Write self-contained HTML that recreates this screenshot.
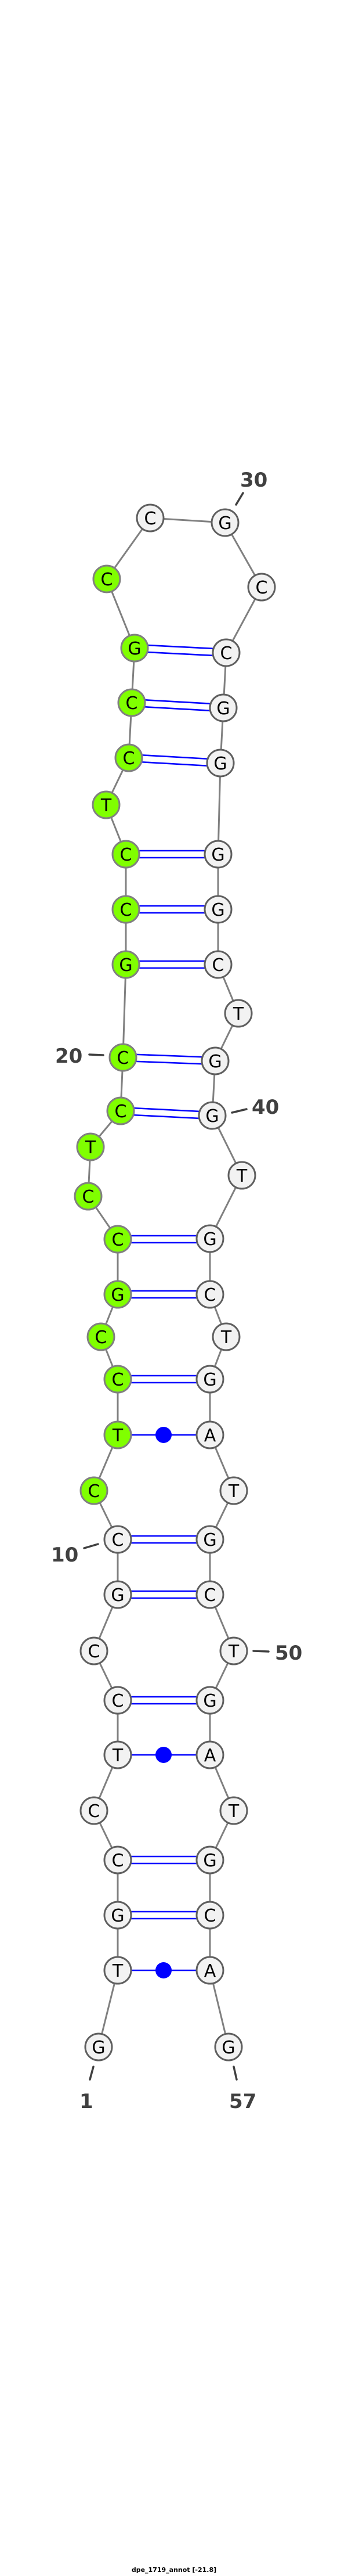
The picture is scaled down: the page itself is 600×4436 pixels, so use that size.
<!DOCTYPE html>
<html><head><meta charset="utf-8"><style>
html,body{margin:0;padding:0;background:#fff;}
svg{display:block;}
.bb{stroke:#808080;stroke-width:3;fill:none;}
.bp{stroke:#0000ff;stroke-width:2.6;}
.w{fill:#f2f2f2;stroke:#5f5f5f;stroke-width:3;}
.g{fill:#80ff00;stroke:#808080;stroke-width:3;}
.t{font-family:"DejaVu Sans","Liberation Sans",sans-serif;font-size:30px;text-anchor:middle;fill:#000;}
.l{font-family:"DejaVu Sans","Liberation Sans",sans-serif;font-size:34px;font-weight:bold;fill:#404040;}
.tk{stroke:#404040;stroke-width:3.5;stroke-linecap:round;}
</style></head><body>
<svg width="600" height="4436" viewBox="0 0 600 4436" xmlns="http://www.w3.org/2000/svg">
<polyline class="bb" points="170,3525 203,3393 203,3298 203,3203 162,3118 203,3022 203,2928 162,2843 203,2746 203,2651 162,2567 203,2471 203,2375 174,2302 203,2229 203,2134 152,2060 156,1975 208,1913 212,1821 217,1661 217,1566 217,1471 183,1386 222,1305 227,1210 232,1116 184,997 259,892 388,900 451,1011 390,1124 385,1219 380,1314 376,1471 376,1566 376,1661 411,1745 371,1827 366,1921 417,2024 362,2133 362,2229 390,2302 362,2375 362,2471 403,2567 362,2651 362,2746 403,2843 362,2928 362,3022 403,3118 362,3203 362,3298 362,3393 394,3525"/>
<g class="bp">
<line x1="232" y1="1110" x2="390" y2="1118"/><line x1="232" y1="1122" x2="390" y2="1130"/>
<line x1="227" y1="1204" x2="385" y2="1213"/><line x1="227" y1="1216" x2="385" y2="1225"/>
<line x1="222" y1="1299" x2="380" y2="1308"/><line x1="222" y1="1311" x2="380" y2="1320"/>
<line x1="217" y1="1465" x2="376" y2="1465"/><line x1="217" y1="1477" x2="376" y2="1477"/>
<line x1="217" y1="1560" x2="376" y2="1560"/><line x1="217" y1="1572" x2="376" y2="1572"/>
<line x1="217" y1="1655" x2="376" y2="1655"/><line x1="217" y1="1667" x2="376" y2="1667"/>
<line x1="212" y1="1815" x2="371" y2="1821"/><line x1="212" y1="1827" x2="371" y2="1833"/>
<line x1="208" y1="1907" x2="366" y2="1915"/><line x1="208" y1="1919" x2="366" y2="1927"/>
<line x1="203" y1="2128" x2="362" y2="2128"/><line x1="203" y1="2140" x2="362" y2="2140"/>
<line x1="203" y1="2223" x2="362" y2="2223"/><line x1="203" y1="2235" x2="362" y2="2235"/>
<line x1="203" y1="2369" x2="362" y2="2369"/><line x1="203" y1="2381" x2="362" y2="2381"/>
<line x1="203" y1="2645" x2="362" y2="2645"/><line x1="203" y1="2657" x2="362" y2="2657"/>
<line x1="203" y1="2740" x2="362" y2="2740"/><line x1="203" y1="2752" x2="362" y2="2752"/>
<line x1="203" y1="2922" x2="362" y2="2922"/><line x1="203" y1="2934" x2="362" y2="2934"/>
<line x1="203" y1="3197" x2="362" y2="3197"/><line x1="203" y1="3209" x2="362" y2="3209"/>
<line x1="203" y1="3292" x2="362" y2="3292"/><line x1="203" y1="3304" x2="362" y2="3304"/>
<line x1="203" y1="2471" x2="362" y2="2471"/>
<line x1="203" y1="3022" x2="362" y2="3022"/>
<line x1="203" y1="3393" x2="362" y2="3393"/>
</g>
<g fill="#0000ff"><circle cx="282" cy="2471" r="14"/><circle cx="282" cy="3022" r="14"/><circle cx="282" cy="3393" r="14"/></g>
<g>
<circle class="w" cx="170" cy="3525" r="23"/><text class="t" x="170" y="3536">G</text>
<circle class="w" cx="203" cy="3393" r="23"/><text class="t" x="203" y="3404">T</text>
<circle class="w" cx="203" cy="3298" r="23"/><text class="t" x="203" y="3309">G</text>
<circle class="w" cx="203" cy="3203" r="23"/><text class="t" x="203" y="3214">C</text>
<circle class="w" cx="162" cy="3118" r="23"/><text class="t" x="162" y="3129">C</text>
<circle class="w" cx="203" cy="3022" r="23"/><text class="t" x="203" y="3033">T</text>
<circle class="w" cx="203" cy="2928" r="23"/><text class="t" x="203" y="2939">C</text>
<circle class="w" cx="162" cy="2843" r="23"/><text class="t" x="162" y="2854">C</text>
<circle class="w" cx="203" cy="2746" r="23"/><text class="t" x="203" y="2757">G</text>
<circle class="w" cx="203" cy="2651" r="23"/><text class="t" x="203" y="2662">C</text>
<circle class="g" cx="162" cy="2567" r="23"/><text class="t" x="162" y="2578">C</text>
<circle class="g" cx="203" cy="2471" r="23"/><text class="t" x="203" y="2482">T</text>
<circle class="g" cx="203" cy="2375" r="23"/><text class="t" x="203" y="2386">C</text>
<circle class="g" cx="174" cy="2302" r="23"/><text class="t" x="174" y="2313">C</text>
<circle class="g" cx="203" cy="2229" r="23"/><text class="t" x="203" y="2240">G</text>
<circle class="g" cx="203" cy="2134" r="23"/><text class="t" x="203" y="2145">C</text>
<circle class="g" cx="152" cy="2060" r="23"/><text class="t" x="152" y="2071">C</text>
<circle class="g" cx="156" cy="1975" r="23"/><text class="t" x="156" y="1986">T</text>
<circle class="g" cx="208" cy="1913" r="23"/><text class="t" x="208" y="1924">C</text>
<circle class="g" cx="212" cy="1821" r="23"/><text class="t" x="212" y="1832">C</text>
<circle class="g" cx="217" cy="1661" r="23"/><text class="t" x="217" y="1672">G</text>
<circle class="g" cx="217" cy="1566" r="23"/><text class="t" x="217" y="1577">C</text>
<circle class="g" cx="217" cy="1471" r="23"/><text class="t" x="217" y="1482">C</text>
<circle class="g" cx="183" cy="1386" r="23"/><text class="t" x="183" y="1397">T</text>
<circle class="g" cx="222" cy="1305" r="23"/><text class="t" x="222" y="1316">C</text>
<circle class="g" cx="227" cy="1210" r="23"/><text class="t" x="227" y="1221">C</text>
<circle class="g" cx="232" cy="1116" r="23"/><text class="t" x="232" y="1127">G</text>
<circle class="g" cx="184" cy="997" r="23"/><text class="t" x="184" y="1008">C</text>
<circle class="w" cx="259" cy="892" r="23"/><text class="t" x="259" y="903">C</text>
<circle class="w" cx="388" cy="900" r="23"/><text class="t" x="388" y="911">G</text>
<circle class="w" cx="451" cy="1011" r="23"/><text class="t" x="451" y="1022">C</text>
<circle class="w" cx="390" cy="1124" r="23"/><text class="t" x="390" y="1135">C</text>
<circle class="w" cx="385" cy="1219" r="23"/><text class="t" x="385" y="1230">G</text>
<circle class="w" cx="380" cy="1314" r="23"/><text class="t" x="380" y="1325">G</text>
<circle class="w" cx="376" cy="1471" r="23"/><text class="t" x="376" y="1482">G</text>
<circle class="w" cx="376" cy="1566" r="23"/><text class="t" x="376" y="1577">G</text>
<circle class="w" cx="376" cy="1661" r="23"/><text class="t" x="376" y="1672">C</text>
<circle class="w" cx="411" cy="1745" r="23"/><text class="t" x="411" y="1756">T</text>
<circle class="w" cx="371" cy="1827" r="23"/><text class="t" x="371" y="1838">G</text>
<circle class="w" cx="366" cy="1921" r="23"/><text class="t" x="366" y="1932">G</text>
<circle class="w" cx="417" cy="2024" r="23"/><text class="t" x="417" y="2035">T</text>
<circle class="w" cx="362" cy="2133" r="23"/><text class="t" x="362" y="2144">G</text>
<circle class="w" cx="362" cy="2229" r="23"/><text class="t" x="362" y="2240">C</text>
<circle class="w" cx="390" cy="2302" r="23"/><text class="t" x="390" y="2313">T</text>
<circle class="w" cx="362" cy="2375" r="23"/><text class="t" x="362" y="2386">G</text>
<circle class="w" cx="362" cy="2471" r="23"/><text class="t" x="362" y="2482">A</text>
<circle class="w" cx="403" cy="2567" r="23"/><text class="t" x="403" y="2578">T</text>
<circle class="w" cx="362" cy="2651" r="23"/><text class="t" x="362" y="2662">G</text>
<circle class="w" cx="362" cy="2746" r="23"/><text class="t" x="362" y="2757">C</text>
<circle class="w" cx="403" cy="2843" r="23"/><text class="t" x="403" y="2854">T</text>
<circle class="w" cx="362" cy="2928" r="23"/><text class="t" x="362" y="2939">G</text>
<circle class="w" cx="362" cy="3022" r="23"/><text class="t" x="362" y="3033">A</text>
<circle class="w" cx="403" cy="3118" r="23"/><text class="t" x="403" y="3129">T</text>
<circle class="w" cx="362" cy="3203" r="23"/><text class="t" x="362" y="3214">G</text>
<circle class="w" cx="362" cy="3298" r="23"/><text class="t" x="362" y="3309">C</text>
<circle class="w" cx="362" cy="3393" r="23"/><text class="t" x="362" y="3404">A</text>
<circle class="w" cx="394" cy="3525" r="23"/><text class="t" x="394" y="3536">G</text>
</g>
<g>
<line class="tk" x1="419" y1="849" x2="407" y2="869"/><text class="l" x="414" y="838">30</text>
<line class="tk" x1="154" y1="1816" x2="178" y2="1817"/><text class="l" x="95" y="1830">20</text>
<line class="tk" x1="400" y1="1916" x2="425" y2="1910"/><text class="l" x="434" y="1918">40</text>
<line class="tk" x1="145" y1="2666" x2="169" y2="2659"/><text class="l" x="88" y="2689">10</text>
<line class="tk" x1="437" y1="2843" x2="463" y2="2844"/><text class="l" x="474" y="2858">50</text>
<line class="tk" x1="161" y1="3559" x2="155" y2="3581"/><text class="l" x="137" y="3630">1</text>
<line class="tk" x1="403" y1="3559" x2="408" y2="3581"/><text class="l" x="395" y="3630">57</text>
</g>
<text x="300" y="4429" font-family="'DejaVu Sans','Liberation Sans',sans-serif" font-size="11" font-weight="bold" text-anchor="middle" fill="#000">dpe_1719_annot [-21.8]</text>
</svg>
</body></html>
